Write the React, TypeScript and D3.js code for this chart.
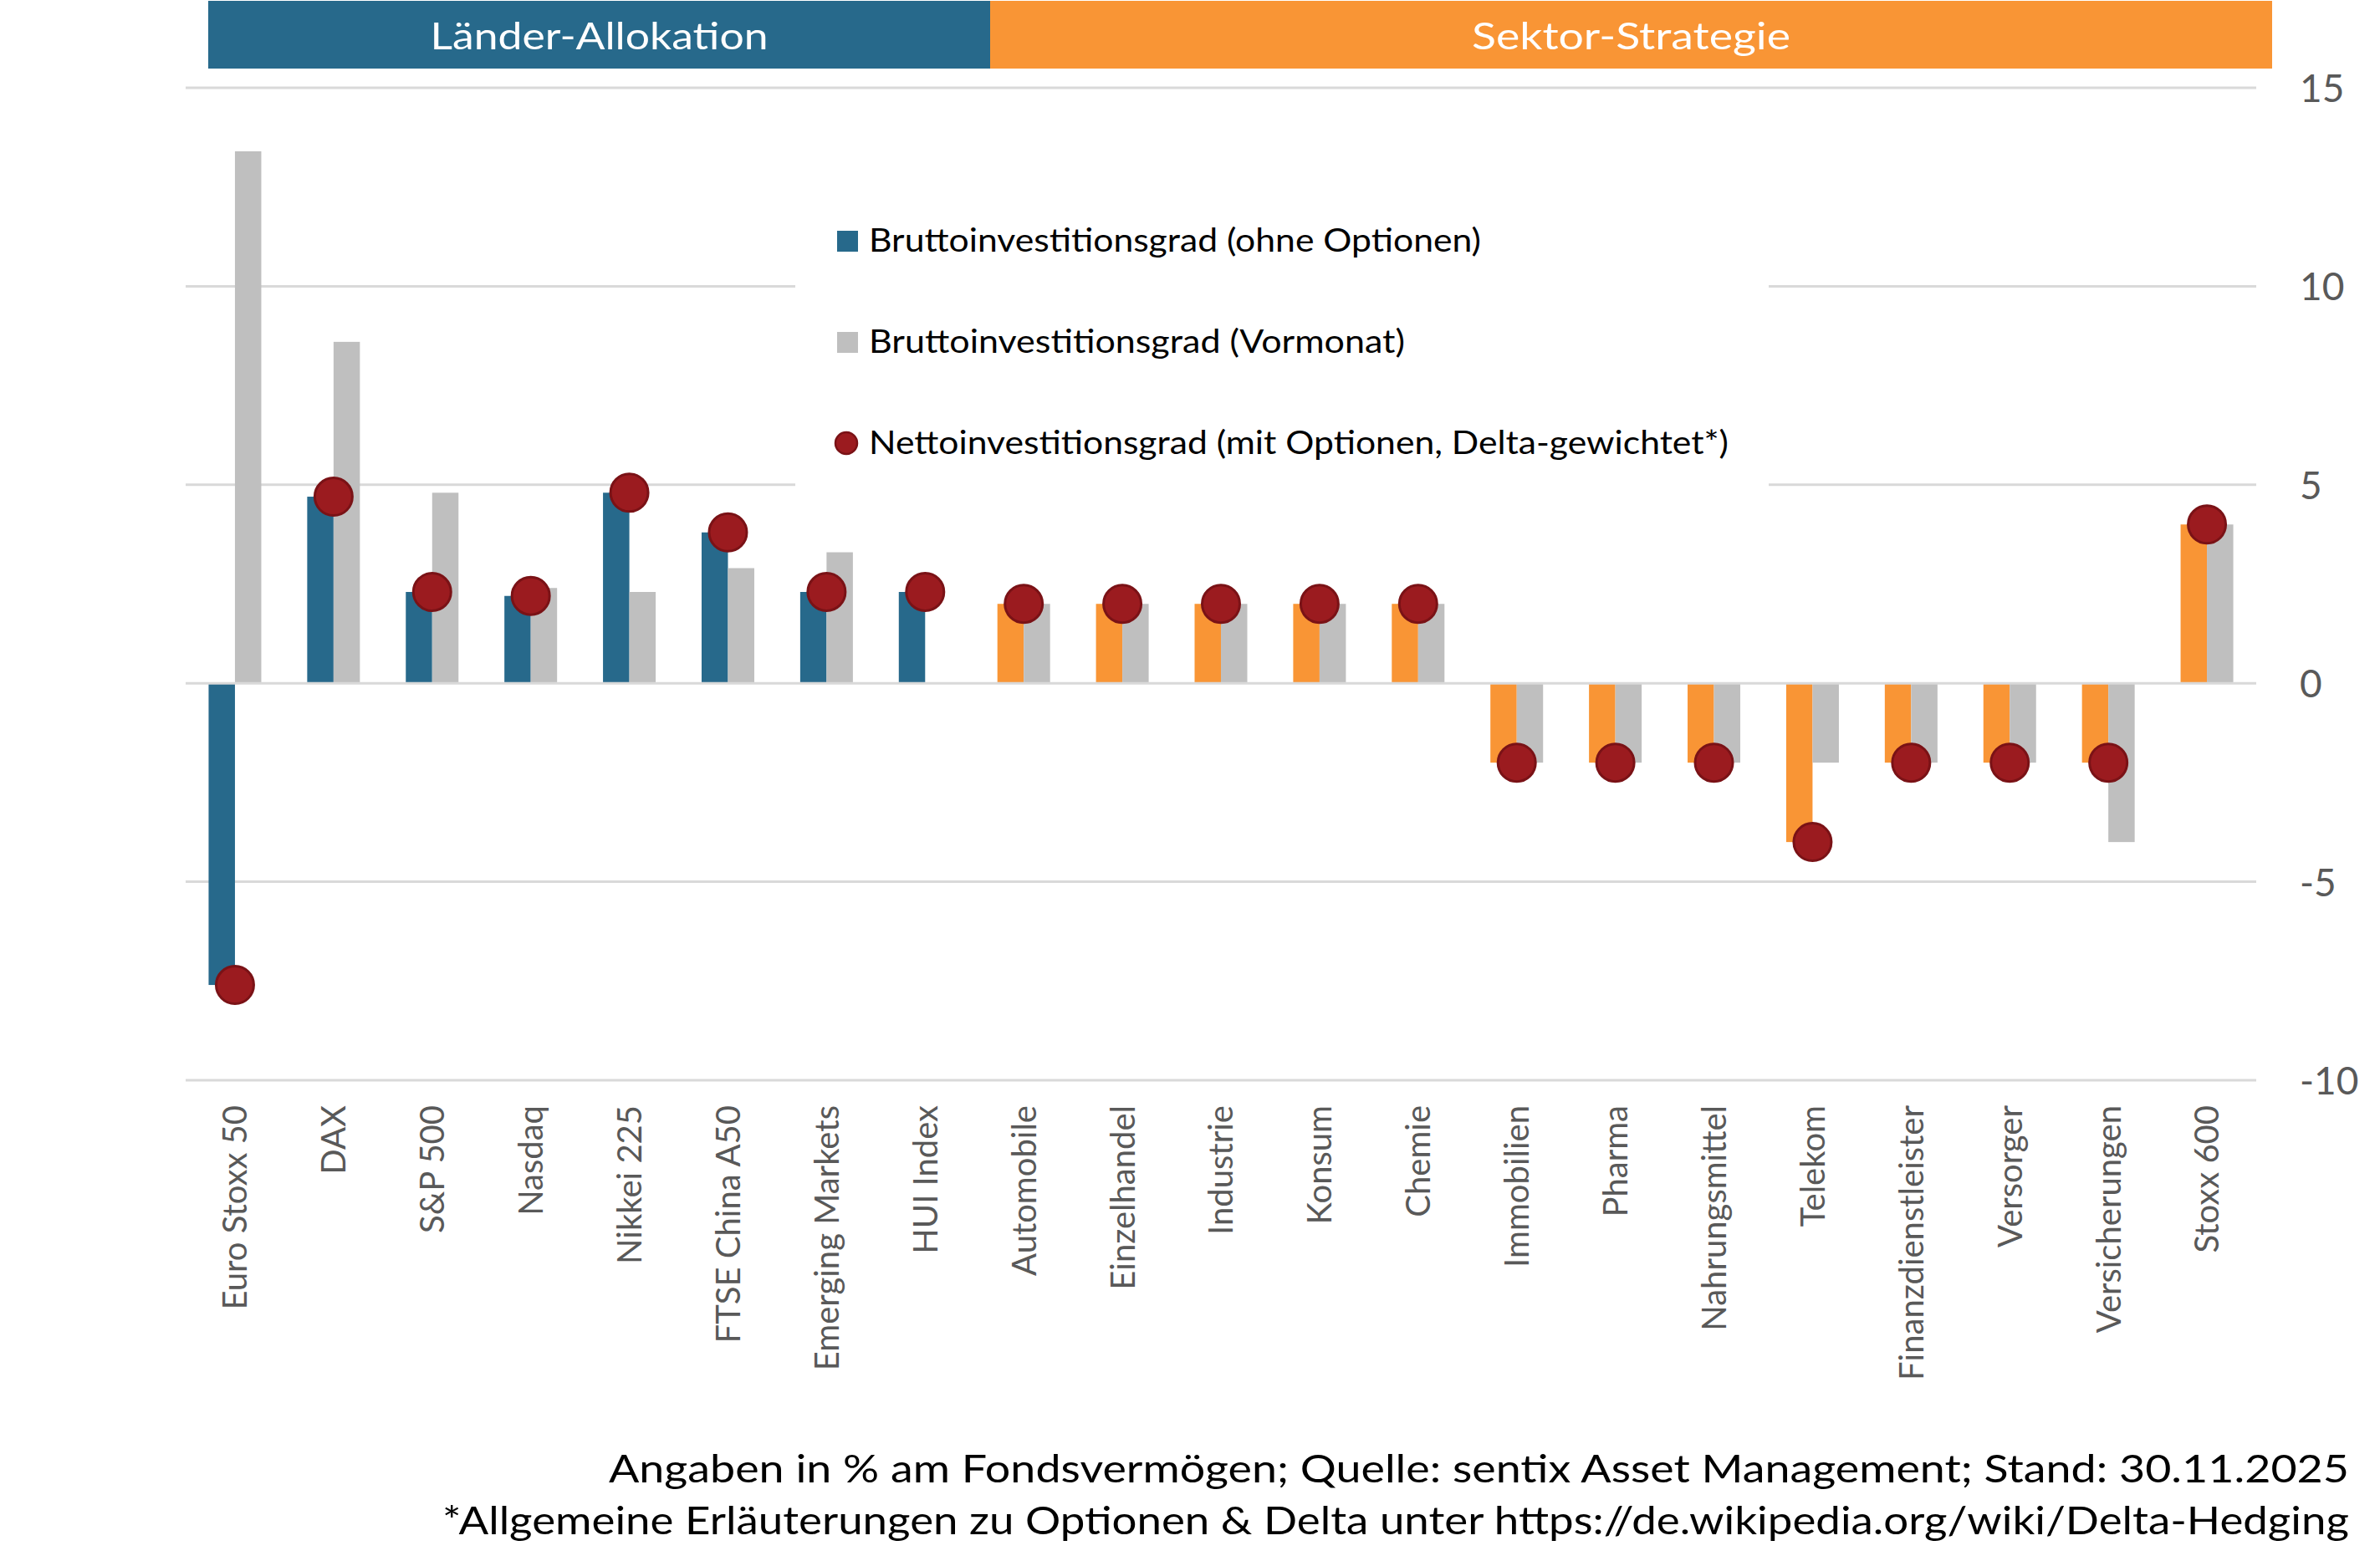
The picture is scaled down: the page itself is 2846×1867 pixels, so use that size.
import { axisRight, scaleBand, scaleLinear, select } from 'd3';
import { useEffect, useRef } from 'react';

const categories = [
  'Euro Stoxx 50',
  'DAX',
  'S&P 500',
  'Nasdaq',
  'Nikkei 225',
  'FTSE China A50',
  'Emerging Markets',
  'HUI Index',
  'Automobile',
  'Einzelhandel',
  'Industrie',
  'Konsum',
  'Chemie',
  'Immobilien',
  'Pharma',
  'Nahrungsmittel',
  'Telekom',
  'Finanzdienstleister',
  'Versorger',
  'Versicherungen',
  'Stoxx 600',
];

// first 8 are countries, rest sectors
const segments = ['Länder-Allokation', 'Sektor-Strategie'];
const countryCount = 8;

const grossCurrent = [-7.6, 4.7, 2.3, 2.2, 4.8, 3.8, 2.3, 2.3, 2, 2, 2, 2, 2, -2, -2, -2, -4, -2, -2, -2, 4];
const grossPrevious = [13.4, 8.6, 4.8, 2.4, 2.3, 2.9, 3.3, 0, 2, 2, 2, 2, 2, -2, -2, -2, -2, -2, -2, -4, 4];
const netDelta = [-7.6, 4.7, 2.3, 2.2, 4.8, 3.8, 2.3, 2.3, 2, 2, 2, 2, 2, -2, -2, -2, -4, -2, -2, -2, 4];

const yTicks = [-10, -5, 0, 5, 10, 15];

const legendLabels = [
  'Bruttoinvestitionsgrad (ohne Optionen)',
  'Bruttoinvestitionsgrad (Vormonat)',
  'Nettoinvestitionsgrad (mit Optionen, Delta-gewichtet*)',
];

const footnotes = [
  'Angaben in % am Fondsvermögen; Quelle: sentix Asset Management; Stand: 30.11.2025',
  '*Allgemeine Erläuterungen zu Optionen & Delta unter https://de.wikipedia.org/wiki/Delta-Hedging',
];

const WIDTH = 2846;
const HEIGHT = 1867;
const FONT = 'Lato, "Open Sans", sans-serif';

const COLORS = {
  country: '#27698b',
  sector: '#f99535',
  previous: '#bfbfbf',
  dot: '#9b1b1f',
  dotStroke: '#7a1216',
  grid: '#d9d9d9',
  tick: '#595959',
};

const App = () => {
  const svgElem = useRef<SVGSVGElement>(null);

  useEffect(() => {
    if (!svgElem.current) {
      return;
    }
    document.body.style.margin = '0';

    const svg = select(svgElem.current);
    svg.selectAll('*').remove();

    const MARGINS = { top: 105, right: 148, bottom: 575, left: 222 };

    const xScale = scaleBand<string>()
      .domain(categories)
      .range([MARGINS.left, WIDTH - MARGINS.right]);
    const yScale = scaleLinear()
      .domain([-10, 15])
      .range([HEIGHT - MARGINS.bottom, MARGINS.top]);

    const barW = 31.5;
    const center = (c: string) => (xScale(c) ?? 0) + xScale.bandwidth() / 2;

    // gridlines
    svg
      .append('g')
      .selectAll('line')
      .data(yTicks.filter((t) => t !== 0))
      .join('line')
      .attr('x1', MARGINS.left)
      .attr('x2', WIDTH - MARGINS.right)
      .attr('y1', (d) => yScale(d))
      .attr('y2', (d) => yScale(d))
      .attr('stroke', COLORS.grid)
      .attr('stroke-width', 3);

    // legend background hides gridlines behind it
    svg
      .append('rect')
      .attr('x', 951)
      .attr('y', 240)
      .attr('width', 1164)
      .attr('height', 350)
      .attr('fill', '#fff');

    // y axis labels on the right (plain hyphen for negatives)
    const yAxis = axisRight(yScale)
      .tickValues(yTicks)
      .tickSize(0)
      .tickPadding(0)
      .tickFormat((d) => String(d));
    const yg = svg
      .append('g')
      .attr('transform', `translate(2750, 0)`)
      // @ts-expect-error: d3 typings
      .call(yAxis);
    yg.select('.domain').remove();
    yg.selectAll('text')
      .attr('x', 0)
      .attr('dy', '0.36em')
      .attr('fill', COLORS.tick)
      .style('font-family', FONT)
      .style('font-size', '46px');

    const idx = categories.map((_, i) => i);

    // current gross bars
    svg
      .append('g')
      .selectAll('rect')
      .data(idx)
      .join('rect')
      .attr('x', (i) => center(categories[i]) - barW)
      .attr('width', barW)
      .attr('y', (i) => yScale(Math.max(0, grossCurrent[i])))
      .attr('height', (i) => Math.abs(yScale(grossCurrent[i]) - yScale(0)))
      .attr('fill', (i) => (i < countryCount ? COLORS.country : COLORS.sector));

    // previous month bars
    svg
      .append('g')
      .selectAll('rect')
      .data(idx)
      .join('rect')
      .attr('x', (i) => center(categories[i]))
      .attr('width', barW)
      .attr('y', (i) => yScale(Math.max(0, grossPrevious[i])))
      .attr('height', (i) => Math.abs(yScale(grossPrevious[i]) - yScale(0)))
      .attr('fill', COLORS.previous);

    // zero axis line on top of bars
    svg
      .append('line')
      .attr('x1', MARGINS.left)
      .attr('x2', WIDTH - MARGINS.right)
      .attr('y1', yScale(0))
      .attr('y2', yScale(0))
      .attr('stroke', COLORS.grid)
      .attr('stroke-width', 3);

    // net delta dots
    svg
      .append('g')
      .selectAll('circle')
      .data(idx)
      .join('circle')
      .attr('cx', (i) => center(categories[i]))
      .attr('cy', (i) => yScale(netDelta[i]))
      .attr('r', 22.5)
      .attr('fill', COLORS.dot)
      .attr('stroke', COLORS.dotStroke)
      .attr('stroke-width', 3);

    // x labels, rotated
    svg
      .append('g')
      .selectAll('text')
      .data(categories)
      .join('text')
      .attr('transform', (d) => `translate(${center(d)}, 1322) rotate(-90)`)
      .attr('text-anchor', 'end')
      .attr('dy', '0.36em')
      .attr('fill', COLORS.tick)
      .style('font-family', FONT)
      .style('font-size', '40px')
      .text((d) => d);

    // top banner
    const bannerX = [249, 1184, 2717];
    const bannerWidths = [404, 381];
    segments.forEach((s, i) => {
      svg
        .append('rect')
        .attr('x', bannerX[i])
        .attr('y', 1)
        .attr('width', bannerX[i + 1] - bannerX[i])
        .attr('height', 81)
        .attr('fill', i === 0 ? COLORS.country : COLORS.sector);
      svg
        .append('text')
        .attr('x', (bannerX[i] + bannerX[i + 1]) / 2)
        .attr('y', 59)
        .attr('text-anchor', 'middle')
        .attr('fill', '#fff')
        .attr('textLength', bannerWidths[i])
        .attr('lengthAdjust', 'spacingAndGlyphs')
        .style('font-family', FONT)
        .style('font-size', '45px')
        .text(s);
    });

    // legend
    const legendY = [288.5, 409.5, 530];
    const legendWidths = [732, 641, 1028];
    const lg = svg.append('g');
    lg.append('rect')
      .attr('x', 1001)
      .attr('y', legendY[0] - 12.5)
      .attr('width', 25)
      .attr('height', 25)
      .attr('fill', COLORS.country);
    lg.append('rect')
      .attr('x', 1001)
      .attr('y', legendY[1] - 12.5)
      .attr('width', 25)
      .attr('height', 25)
      .attr('fill', COLORS.previous);
    lg.append('circle')
      .attr('cx', 1012)
      .attr('cy', legendY[2])
      .attr('r', 13)
      .attr('fill', COLORS.dot)
      .attr('stroke', COLORS.dotStroke)
      .attr('stroke-width', 2.5);
    lg.selectAll('text')
      .data(legendLabels)
      .join('text')
      .attr('x', 1039)
      .attr('y', (_, i) => legendY[i] + 12.5)
      .attr('fill', '#000')
      .attr('textLength', (_, i) => legendWidths[i])
      .attr('lengthAdjust', 'spacingAndGlyphs')
      .style('font-family', FONT)
      .style('font-size', '39px')
      .text((d) => d);

    // footnotes
    const footY = [1773, 1835];
    const footWidths = [2081, 2280];
    svg
      .append('g')
      .selectAll('text')
      .data(footnotes)
      .join('text')
      .attr('x', 2809)
      .attr('y', (_, i) => footY[i])
      .attr('text-anchor', 'end')
      .attr('fill', '#000')
      .attr('textLength', (_, i) => footWidths[i])
      .attr('lengthAdjust', 'spacingAndGlyphs')
      .style('font-family', FONT)
      .style('font-size', '47px')
      .text((d) => d);
  }, [svgElem]);

  return <svg ref={svgElem} width={WIDTH} height={HEIGHT} style={{ display: 'block', background: '#fff' }} />;
};

export default App;
